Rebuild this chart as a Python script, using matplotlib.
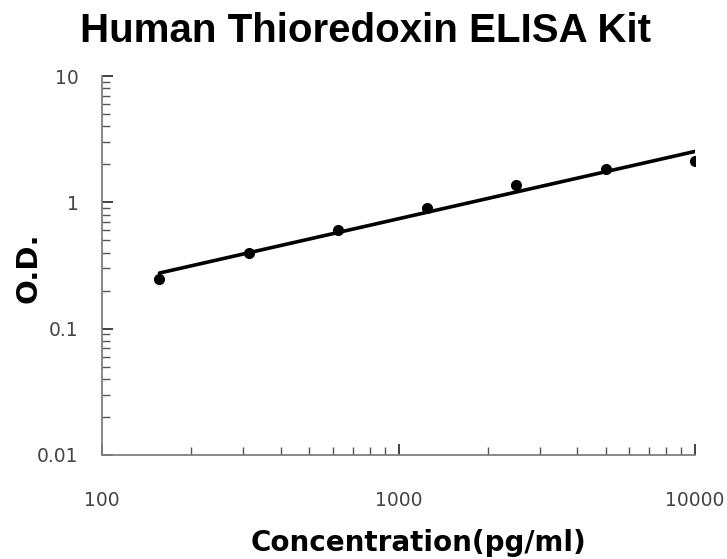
import numpy as np
import matplotlib
matplotlib.use('Agg')
import matplotlib.pyplot as plt
from matplotlib.ticker import FixedLocator, FixedFormatter, LogLocator, NullFormatter

# standard curve data
conc = [156.25, 312.5, 625, 1250, 2500, 5000, 10000]
od = [0.247, 0.396, 0.60, 0.91, 1.36, 1.82, 2.14]

x_ticks = [100, 1000, 10000]
x_labels = ['100', '1000', '10000']
y_ticks = [0.01, 0.1, 1, 10]
y_labels = ['0.01', '0.1', '1', '10']

# power fit in log-log space
coef = np.polyfit(np.log10(conc), np.log10(od), 1)
fit_x = np.array([conc[0], conc[-1]])
fit_y = 10 ** np.polyval(coef, np.log10(fit_x))

fig = plt.figure(figsize=(7.27, 5.59), dpi=100)
ax = fig.add_axes([102 / 727, 1 - 455 / 559, (695 - 102) / 727, (455 - 76) / 559])

ax.plot(fit_x, fit_y, color='black', lw=2.6, solid_capstyle='round')
ax.plot(conc, od, 'o', color='black', markersize=7)

ax.set_xscale('log')
ax.set_yscale('log')
ax.set_xlim(100, 10000)
ax.set_ylim(0.01, 10)

ax.xaxis.set_major_locator(FixedLocator(x_ticks))
ax.xaxis.set_major_formatter(FixedFormatter(x_labels))
ax.yaxis.set_major_locator(FixedLocator(y_ticks))
ax.yaxis.set_major_formatter(FixedFormatter(y_labels))
ax.xaxis.set_minor_locator(LogLocator(base=10, subs=np.arange(2, 10)))
ax.yaxis.set_minor_locator(LogLocator(base=10, subs=np.arange(2, 10)))
ax.xaxis.set_minor_formatter(NullFormatter())
ax.yaxis.set_minor_formatter(NullFormatter())

for side in ['top', 'right']:
    ax.spines[side].set_visible(False)
for side in ['left', 'bottom']:
    ax.spines[side].set_color('#808080')
    ax.spines[side].set_linewidth(1.3)

ax.tick_params(which='major', direction='in', length=8, width=1.3, color='#333333',
               labelsize=13.5, labelcolor='#444444')
ax.tick_params(which='minor', direction='in', length=6, width=1.0, color='#555555')
ax.tick_params(axis='y', which='major', pad=17)
ax.tick_params(axis='x', which='major', pad=26)
for lab in ax.get_xticklabels() + ax.get_yticklabels():
    lab.set_family('DejaVu Sans')

fig.text(365 / 727, 1 - 31 / 559, 'Human Thioredoxin ELISA Kit', ha='center', va='center',
         fontsize=29, fontweight='bold', family='Liberation Sans')
fig.text(419 / 727, 1 - 543 / 559, 'Concentration(pg/ml)', ha='center', va='center',
         fontsize=20, fontweight='bold', family='DejaVu Sans')
fig.text(29 / 727, 1 - 268 / 559, 'O.D.', ha='center', va='center', rotation=90,
         fontsize=21, fontweight='bold', family='DejaVu Sans')

fig.savefig('out.png', dpi=100)
plt.close(fig)
